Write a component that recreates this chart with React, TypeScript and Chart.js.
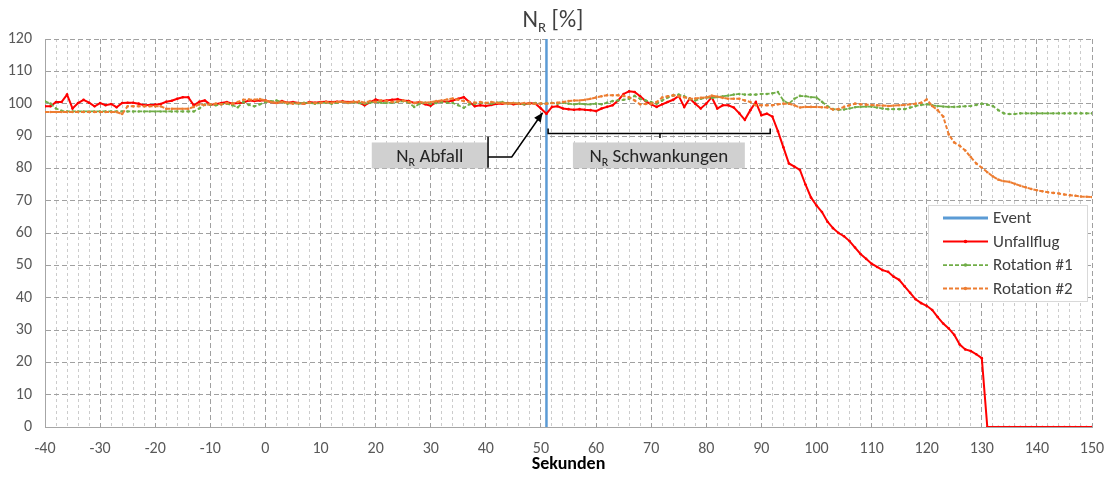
import React, { useEffect, useRef } from 'react';
import { Chart, registerables } from 'chart.js';

Chart.register(...registerables);

const FONT = "Carlito, Calibri, Lato, 'Open Sans', sans-serif";

// time axis in seconds (1 s sampling)
const seconds: number[] = Array.from({ length: 191 }, (_, i) => i - 40);

const eventTimes = [51, 51];
const eventValues = [0, 120];

const unfallflug = [
  99.2, 99.2, 100.5, 100.5, 102.8, 98.5, 100.2, 101.2, 100.3, 99.2, // -40..-31
  100.2, 99.5, 99.9, 98.9, 100.2, 100.3, 100.3, 100.0, 99.5, 99.6, // -30..-21
  99.7, 99.9, 100.6, 100.9, 101.5, 102.0, 102.0, 99.5, 100.6, 101.0, // -20..-11
  99.7, 99.8, 100.2, 100.5, 100.0, 100.2, 100.3, 101.0, 100.8, 101.0, // -10..-1
  101.0, 100.5, 100.2, 100.8, 100.3, 100.5, 100.2, 100.0, 100.5, 100.3, // 0..9
  100.5, 100.6, 100.5, 100.6, 100.7, 100.5, 100.6, 100.3, 99.5, 100.5, // 10..19
  101.3, 100.8, 101.0, 101.2, 101.4, 101.0, 100.8, 100.2, 100.5, 99.8, // 20..29
  99.4, 100.5, 100.8, 100.5, 101.0, 101.5, 102.0, 100.5, 99.2, 99.5, // 30..39
  99.3, 99.6, 100.0, 100.0, 100.2, 99.8, 100.0, 99.8, 100.2, 100.0, // 40..49
  98.5, 96.9, 99.0, 99.2, 98.5, 98.3, 98.1, 98.3, 98.1, 98.0, // 50..59
  97.7, 98.5, 99.0, 99.5, 101.0, 103.0, 103.8, 103.6, 102.3, 100.8, // 60..69
  99.8, 99.0, 99.8, 100.5, 101.2, 102.4, 99.0, 101.6, 100.0, 98.5, // 70..79
  100.0, 102.0, 98.5, 99.5, 99.5, 98.8, 97.0, 95.0, 98.0, 100.5, // 80..89
  96.4, 96.9, 96.0, 91.5, 86.5, 81.5, 80.5, 79.5, 75.0, 71.0, // 90..99
  68.5, 66.5, 63.5, 61.5, 60.0, 59.0, 57.5, 55.5, 53.5, 52.0, // 100..109
  50.5, 49.5, 48.5, 48.0, 46.5, 45.5, 43.5, 41.5, 39.5, 38.3, // 110..119
  37.5, 36.2, 34.0, 32.0, 30.5, 28.5, 25.5, 24.0, 23.5, 22.5, // 120..129
  21.3, 0, 0, 0, 0, 0, 0, 0, 0, 0, // 130..139
  0, 0, 0, 0, 0, 0, 0, 0, 0, 0, 0, // 140..150
];

const rotation1 = [
  100.7, 100.0, 98.5, 97.8, 97.6, 97.6, 97.6, 97.6, 97.6, 97.6, // -40..-31
  97.6, 97.6, 97.6, 97.6, 97.6, 97.6, 97.6, 97.6, 97.6, 97.6, // -30..-21
  97.6, 97.6, 97.6, 97.6, 97.6, 97.6, 97.6, 97.6, 98.5, 99.7, // -20..-11
  99.7, 99.5, 99.8, 100.0, 99.5, 98.9, 100.5, 99.6, 99.2, 99.8, // -10..-1
  100.5, 100.7, 101.0, 100.5, 100.0, 100.2, 100.0, 100.3, 100.2, 100.0, // 0..9
  100.2, 100.3, 100.0, 100.3, 100.5, 100.2, 100.4, 100.2, 100.0, 100.3, // 10..19
  100.5, 100.3, 100.2, 100.3, 100.5, 100.8, 100.3, 99.0, 100.0, 100.3, // 20..29
  100.0, 100.2, 100.5, 100.3, 100.2, 99.5, 98.7, 99.8, 100.0, 100.3, // 30..39
  100.2, 100.0, 100.3, 100.5, 100.0, 100.2, 100.0, 99.8, 100.0, 100.2, // 40..49
  100.0, 100.0, 100.2, 100.0, 100.3, 100.0, 99.8, 100.0, 99.8, 99.8, // 50..59
  100.0, 99.8, 100.3, 100.8, 101.0, 101.2, 101.5, 102.4, 101.5, 101.0, // 60..69
  100.5, 100.0, 101.0, 101.9, 102.5, 102.8, 102.3, 101.5, 101.0, 101.5, // 70..79
  101.9, 101.8, 102.0, 102.3, 102.5, 102.8, 103.0, 102.8, 102.8, 102.8, // 80..89
  103.0, 103.0, 103.2, 103.6, 101.0, 100.0, 101.5, 102.4, 102.3, 102.0, // 90..99
  101.9, 100.6, 99.2, 98.3, 98.1, 98.2, 98.5, 98.9, 99.0, 99.1, // 100..109
  99.1, 98.8, 98.5, 98.3, 98.3, 98.3, 98.3, 98.8, 99.3, 99.6, // 110..119
  99.8, 99.5, 99.3, 99.1, 99.0, 99.0, 99.1, 99.2, 99.3, 99.6, // 120..129
  100.0, 99.7, 99.3, 98.0, 97.0, 96.8, 96.8, 97.0, 97.0, 97.0, // 130..139
  97.0, 97.0, 97.0, 97.0, 97.0, 97.0, 97.0, 97.0, 97.0, 97.0, 97.0, // 140..150
];

const rotation2 = [
  97.4, 97.4, 97.4, 97.4, 97.4, 97.4, 97.4, 97.4, 97.4, 97.4, // -40..-31
  97.4, 97.4, 97.4, 97.4, 96.8, 99.2, 99.2, 99.2, 99.2, 99.2, // -30..-21
  99.2, 99.2, 98.4, 98.4, 98.4, 98.4, 98.4, 99.0, 99.8, 99.6, // -20..-11
  99.8, 100.0, 99.8, 100.2, 100.0, 100.5, 101.2, 101.3, 101.2, 101.4, // -10..-1
  101.0, 100.5, 100.2, 100.5, 100.3, 100.0, 100.2, 100.0, 100.3, 100.2, // 0..9
  100.3, 100.5, 100.3, 100.5, 100.5, 100.3, 100.5, 100.7, 100.3, 100.8, // 10..19
  100.5, 101.0, 100.8, 100.5, 100.7, 101.0, 100.5, 100.2, 100.5, 100.3, // 20..29
  100.5, 100.8, 101.0, 101.3, 101.6, 101.2, 100.8, 100.5, 100.3, 100.5, // 30..39
  100.2, 100.5, 100.3, 100.2, 100.0, 100.2, 100.0, 100.2, 100.0, 100.0, // 40..49
  100.0, 100.0, 100.2, 100.3, 100.5, 100.8, 101.0, 101.0, 101.2, 101.5, // 50..59
  101.9, 102.3, 102.6, 102.6, 102.6, 102.4, 102.0, 101.0, 99.8, 99.9, // 60..69
  100.0, 100.5, 101.9, 102.3, 102.6, 102.3, 102.0, 101.5, 101.6, 101.8, // 70..79
  101.9, 102.5, 102.2, 101.8, 101.5, 101.5, 101.5, 101.0, 100.5, 99.5, // 80..89
  99.5, 99.5, 99.5, 99.8, 100.0, 100.0, 99.5, 98.8, 99.0, 99.0, // 90..99
  99.0, 98.9, 98.8, 98.2, 98.3, 99.0, 99.5, 100.0, 99.8, 99.7, // 100..109
  99.6, 99.5, 99.4, 99.3, 99.4, 99.5, 99.6, 99.8, 100.0, 100.3, // 110..119
  101.3, 99.3, 98.0, 96.0, 90.5, 88.0, 87.0, 85.5, 83.5, 81.5, // 120..129
  80.2, 78.8, 77.5, 76.5, 76.0, 75.8, 75.2, 74.6, 74.1, 73.6, // 130..139
  73.2, 72.9, 72.6, 72.4, 72.2, 71.9, 71.7, 71.5, 71.3, 71.2, 71.1, // 140..150
];

const seriesLabels = ['Event', 'Unfallflug', 'Rotation #1', 'Rotation #2'];
const seriesColors = ['#5b9bd5', '#ff0000', '#70ad47', '#ed7d31'];

const xMin = -40;
const xMax = 150;
const yMin = 0;
const yMax = 120;

// annotation geometry in data units (seconds, %)
const abfallBox = { x0: 19.3, x1: 40.4, y0: 80, y1: 88 };
const abfallArrow = { barX: 40.4, barY0: 80.2, barY1: 89.8, midY: 83.5, elbowX: 44.7, tipX: 50.3, tipY: 97.2 };
const schwankBox = { x0: 55.8, x1: 87.0, y0: 80, y1: 88 };
const schwankBrace = { x0: 51.3, x1: 91.6, y: 90.8, endY: 92.3, midX: 71.6, midY: 89.4 };

function drawSubText(
  ctx: CanvasRenderingContext2D,
  main: string,
  sub: string,
  rest: string,
  cx: number,
  baseline: number,
  size: number,
  subSize: number,
  color: string
) {
  const mainFont = `${size}px ${FONT}`;
  const subFont = `${subSize}px ${FONT}`;
  ctx.font = mainFont;
  const w1 = ctx.measureText(main).width;
  const w3 = ctx.measureText(rest).width;
  ctx.font = subFont;
  const w2 = ctx.measureText(sub).width;
  let x = cx - (w1 + w2 + w3) / 2;
  ctx.fillStyle = color;
  ctx.textAlign = 'left';
  ctx.textBaseline = 'alphabetic';
  ctx.font = mainFont;
  ctx.fillText(main, x, baseline);
  x += w1;
  ctx.font = subFont;
  ctx.fillText(sub, x, baseline + size * 0.2);
  x += w2;
  ctx.font = mainFont;
  ctx.fillText(rest, x, baseline);
}

const overlayPlugin = {
  id: 'overlay',
  afterDatasetsDraw(chart: any) {
    const ctx: CanvasRenderingContext2D = chart.ctx;
    const xs = chart.scales.x;
    const ys = chart.scales.y;
    const X = (t: number) => xs.getPixelForValue(t);
    const Y = (v: number) => ys.getPixelForValue(v);
    const area = chart.chartArea;
    ctx.save();

    // Title
    drawSubText(ctx, 'N', 'R', ' [%]', 553, 27, 24, 15, '#404040');

    // Abfall box
    ctx.fillStyle = '#d0d0d0';
    ctx.fillRect(X(abfallBox.x0), Y(abfallBox.y1), X(abfallBox.x1) - X(abfallBox.x0), Y(abfallBox.y0) - Y(abfallBox.y1));
    drawSubText(ctx, 'N', 'R', ' Abfall', (X(abfallBox.x0) + X(abfallBox.x1)) / 2, (Y(abfallBox.y0) + Y(abfallBox.y1)) / 2 + 6.5, 19, 12, '#262626');

    // Schwankungen box
    ctx.fillStyle = '#d0d0d0';
    ctx.fillRect(X(schwankBox.x0), Y(schwankBox.y1), X(schwankBox.x1) - X(schwankBox.x0), Y(schwankBox.y0) - Y(schwankBox.y1));
    drawSubText(ctx, 'N', 'R', ' Schwankungen', (X(schwankBox.x0) + X(schwankBox.x1)) / 2, (Y(schwankBox.y0) + Y(schwankBox.y1)) / 2 + 6.5, 19, 12, '#262626');

    // Abfall connector + arrow
    ctx.strokeStyle = '#000000';
    ctx.lineWidth = 1.5;
    ctx.setLineDash([]);
    ctx.beginPath();
    ctx.moveTo(X(abfallArrow.barX), Y(abfallArrow.barY0));
    ctx.lineTo(X(abfallArrow.barX), Y(abfallArrow.barY1));
    ctx.stroke();
    const ex = X(abfallArrow.elbowX);
    const ey = Y(abfallArrow.midY);
    const tx = X(abfallArrow.tipX);
    const ty = Y(abfallArrow.tipY);
    ctx.beginPath();
    ctx.moveTo(X(abfallArrow.barX), ey);
    ctx.lineTo(ex, ey);
    ctx.lineTo(tx, ty);
    ctx.stroke();
    const ang = Math.atan2(ty - ey, tx - ex);
    const hl = 9;
    const hw = 4;
    ctx.fillStyle = '#000000';
    ctx.beginPath();
    ctx.moveTo(tx, ty);
    ctx.lineTo(tx - hl * Math.cos(ang) + hw * Math.sin(ang), ty - hl * Math.sin(ang) - hw * Math.cos(ang));
    ctx.lineTo(tx - hl * Math.cos(ang) - hw * Math.sin(ang), ty - hl * Math.sin(ang) + hw * Math.cos(ang));
    ctx.closePath();
    ctx.fill();

    // Schwankungen brace
    ctx.beginPath();
    ctx.moveTo(X(schwankBrace.x0), Y(schwankBrace.endY));
    ctx.lineTo(X(schwankBrace.x0), Y(schwankBrace.y));
    ctx.lineTo(X(schwankBrace.x1), Y(schwankBrace.y));
    ctx.lineTo(X(schwankBrace.x1), Y(schwankBrace.endY));
    ctx.moveTo(X(schwankBrace.midX), Y(schwankBrace.y));
    ctx.lineTo(X(schwankBrace.midX), Y(schwankBrace.midY));
    ctx.stroke();

    // Legend
    const lx = area.right - 164;
    const ly = area.top + 166;
    const lw = 159;
    const lh = 96;
    ctx.fillStyle = '#ffffff';
    ctx.fillRect(lx, ly, lw, lh);
    ctx.strokeStyle = '#d9d9d9';
    ctx.lineWidth = 1;
    ctx.strokeRect(lx + 0.5, ly + 0.5, lw, lh);
    const rowY = [13, 36.5, 60, 83.5];
    const dashes = [[], [], [4, 2], [4, 2]];
    const widths = [3, 2, 1.75, 2];
    for (let i = 0; i < 4; i++) {
      const yy = ly + rowY[i];
      ctx.strokeStyle = seriesColors[i];
      ctx.lineWidth = widths[i];
      ctx.setLineDash(dashes[i]);
      ctx.beginPath();
      ctx.moveTo(lx + 15, yy);
      ctx.lineTo(lx + 60, yy);
      ctx.stroke();
      ctx.setLineDash([]);
      if (i > 0) {
        ctx.fillStyle = seriesColors[i];
        ctx.beginPath();
        ctx.arc(lx + 37.5, yy, 1.8, 0, Math.PI * 2);
        ctx.fill();
      }
      ctx.fillStyle = '#404040';
      ctx.font = `17px ${FONT}`;
      ctx.textAlign = 'left';
      ctx.textBaseline = 'middle';
      ctx.fillText(seriesLabels[i], lx + 65, yy + 1);
    }

    ctx.restore();
  },
};

function toPoints(xs: number[], ys: number[]) {
  return ys.map((y, i) => ({ x: xs[i], y }));
}

export default function App() {
  const canvasRef = useRef<HTMLCanvasElement | null>(null);

  useEffect(() => {
    if (!canvasRef.current) return;
    Chart.defaults.font.family = FONT;
    const chart = new Chart(canvasRef.current, {
      type: 'line',
      data: {
        datasets: [
          {
            label: seriesLabels[0],
            data: toPoints(eventTimes, eventValues),
            borderColor: seriesColors[0],
            backgroundColor: seriesColors[0],
            borderWidth: 2.5,
            pointRadius: 0,
            order: 4,
          },
          {
            label: seriesLabels[1],
            data: toPoints(seconds, unfallflug),
            borderColor: seriesColors[1],
            backgroundColor: seriesColors[1],
            borderWidth: 2,
            pointRadius: 1.3,
            pointBorderWidth: 0,
            order: 3,
          },
          {
            label: seriesLabels[2],
            data: toPoints(seconds, rotation1),
            borderColor: seriesColors[2],
            backgroundColor: seriesColors[2],
            borderWidth: 1.75,
            borderDash: [4, 2],
            pointRadius: 1.3,
            pointBorderWidth: 0,
            order: 2,
          },
          {
            label: seriesLabels[3],
            data: toPoints(seconds, rotation2),
            borderColor: seriesColors[3],
            backgroundColor: seriesColors[3],
            borderWidth: 2,
            borderDash: [4, 2],
            pointRadius: 1.3,
            pointBorderWidth: 0,
            order: 1,
          },
        ],
      },
      options: {
        animation: false,
        responsive: false,
        devicePixelRatio: 1,
        layout: { padding: { top: 39, right: 20, left: 0, bottom: 0 } },
        plugins: {
          legend: { display: false },
          tooltip: { enabled: false },
          title: { display: false },
        },
        scales: {
          x: {
            type: 'linear',
            min: xMin,
            max: xMax,
            ticks: {
              stepSize: 2,
              autoSkip: false,
              maxRotation: 0,
              minRotation: 0,
              color: '#595959',
              font: { size: 16 },
              padding: 12,
              callback: (v: any) => (Math.round(v) % 10 === 0 ? String(Math.round(v)) : ''),
            },
            grid: {
              drawTicks: false,
              lineWidth: 1,
              color: (c: any) =>
                c.tick && Math.round(c.tick.value) % 10 === 0 ? '#a0a0a0' : '#cccccc',
            },
            border: {
              display: true,
              color: '#a6a6a6',
              width: 1,
              dash: (c: any) => (c.tick && Math.round(c.tick.value) % 10 === 0 ? [5, 3] : [3, 3]),
            },
            title: {
              display: true,
              text: 'Sekunden',
              color: '#000000',
              font: { size: 18, weight: 'bold' },
              padding: { top: 0, bottom: 2 },
            },
            afterFit: (s: any) => {
              s.height = 50;
              s.paddingLeft = 0;
              s.paddingRight = 0;
            },
          },
          y: {
            type: 'linear',
            min: yMin,
            max: yMax,
            ticks: {
              stepSize: 10,
              color: '#595959',
              font: { size: 16 },
              padding: 13,
            },
            grid: {
              drawTicks: false,
              color: '#a0a0a0',
              lineWidth: 1,
            },
            border: {
              display: true,
              color: '#a6a6a6',
              width: 1,
              dash: [5, 3],
            },
            afterFit: (s: any) => {
              s.width = 45;
              s.paddingTop = 0;
              s.paddingBottom = 0;
            },
          },
        },
      },
      plugins: [overlayPlugin],
    } as any);
    return () => chart.destroy();
  }, []);

  return (
    <div style={{ position: 'fixed', left: 0, top: 0, width: 1112, height: 477, background: '#ffffff' }}>
      <canvas ref={canvasRef} width={1112} height={477} style={{ width: 1112, height: 477 }} />
    </div>
  );
}
